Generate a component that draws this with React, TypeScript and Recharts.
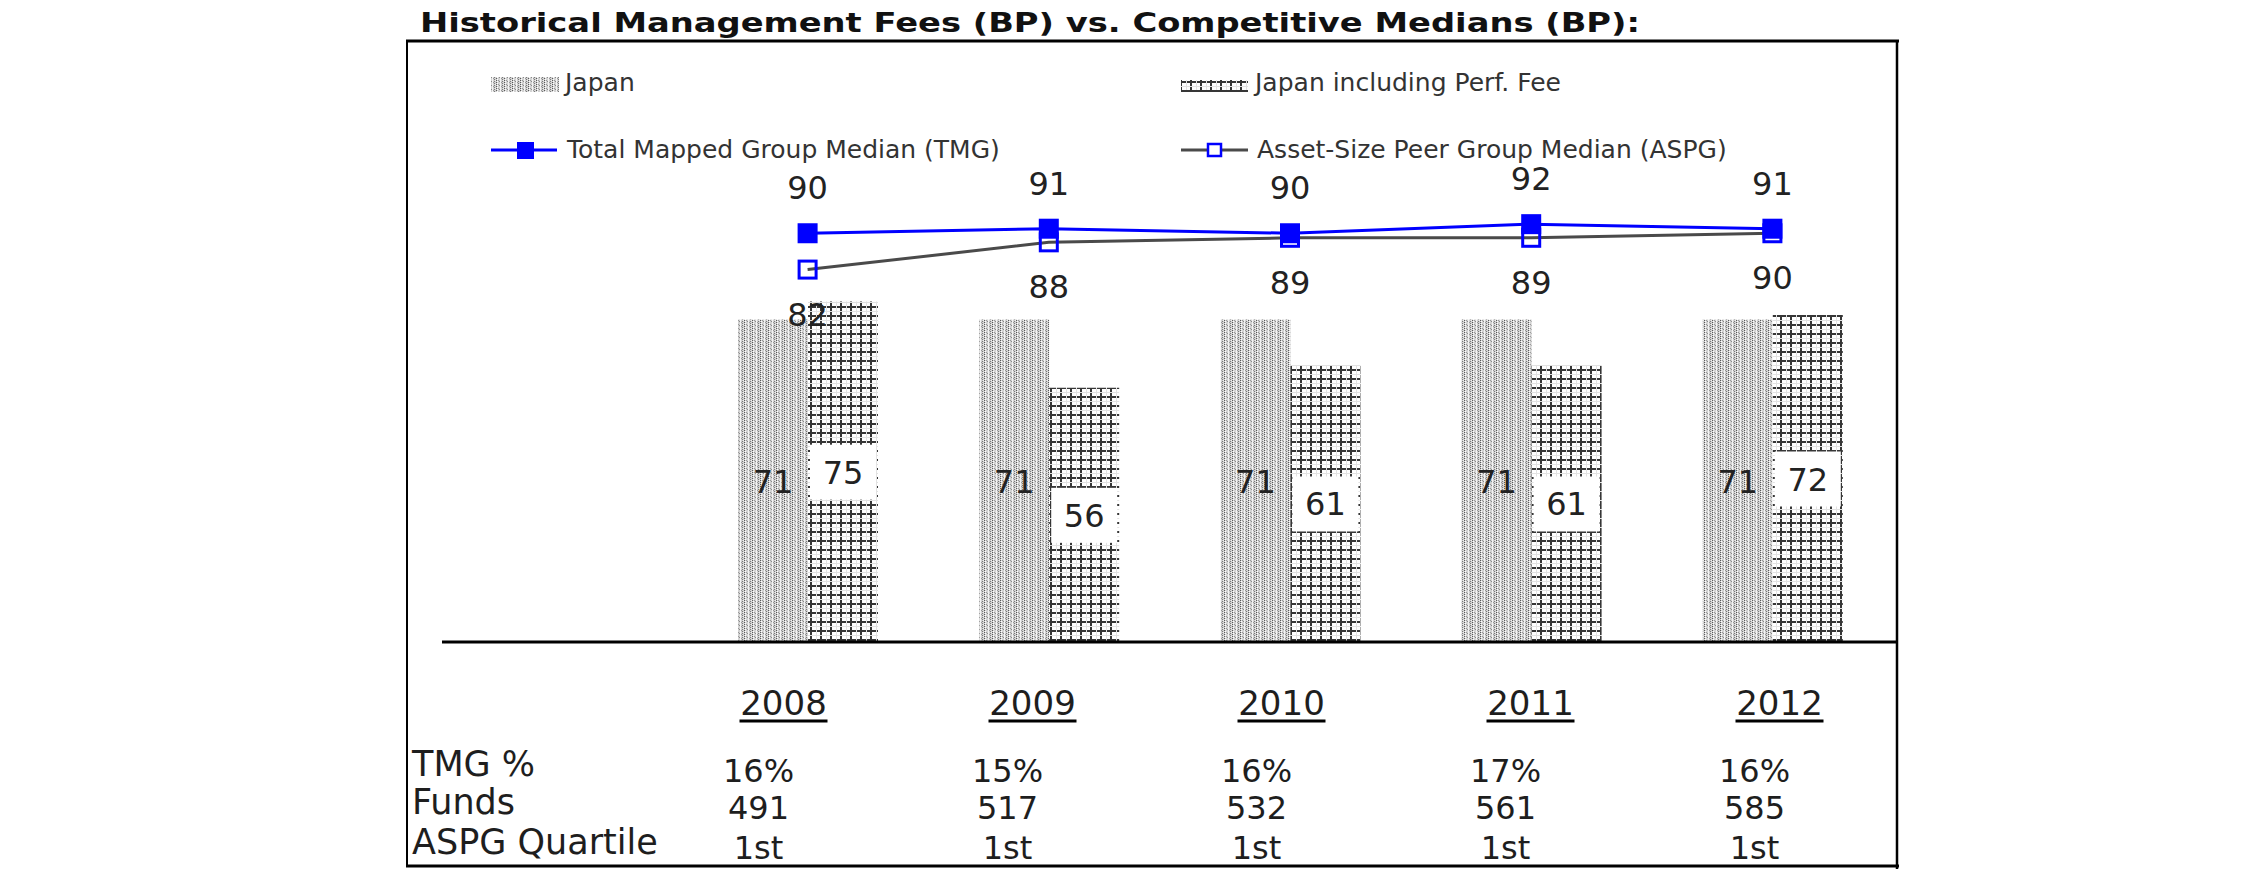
import { ComposedChart, Bar, Line, XAxis, YAxis, LabelList } from "recharts";

const years = ["2008", "2009", "2010", "2011", "2012"];
const japanFees = [71, 71, 71, 71, 71];
const japanPerfFees = [75, 56, 61, 61, 72];
const tmgMedian = [90, 91, 90, 92, 91];
const aspgMedian = [82, 88, 89, 89, 90];
const tmgPct = ["16%", "15%", "16%", "17%", "16%"];
const fundCounts = ["491", "517", "532", "561", "585"];
const aspgQuartile = ["1st", "1st", "1st", "1st", "1st"];
const rowLabels = ["TMG %", "Funds", "ASPG Quartile"];

const data = years.map((year, i) => ({
    year,
    japan: japanFees[i],
    perf: japanPerfFees[i],
    tmg: tmgMedian[i],
    aspg: aspgMedian[i],
}));

const FONT = "'DejaVu Sans', Verdana, sans-serif";
const BLUE = "#0000ff";

// pulls geometry out of label props (recharts 3 sometimes only fills viewBox)
function geom(props: any) {
    const vb = props.viewBox || {};
    return {
        x: props.x ?? vb.x,
        y: props.y ?? vb.y,
        width: props.width ?? vb.width ?? 0,
        height: props.height ?? vb.height ?? 0,
    };
}

function JapanLabel(props: any) {
    const { x, y, width, height } = geom(props);
    return (
        <text x={x + width / 2} y={y + height / 2 + 12} textAnchor="middle" fontSize={32} fontFamily={FONT} fill="#222">
            {props.value}
        </text>
    );
}

function PerfLabel(props: any) {
    const { x, y, width, height } = geom(props);
    const cx = x + width / 2;
    const cy = y + height / 2;
    return (
        <g>
            <rect x={cx - 33} y={cy - 27} width={66} height={55} fill="#fff" />
            <text x={cx} y={cy + 12} textAnchor="middle" fontSize={32} fontFamily={FONT} fill="#222">
                {props.value}
            </text>
        </g>
    );
}

function AboveLabel(props: any) {
    const { x, y } = geom(props);
    return (
        <text x={x} y={y - 34} textAnchor="middle" fontSize={32} fontFamily={FONT} fill="#222">
            {props.value}
        </text>
    );
}

function BelowLabel(props: any) {
    const { x, y } = geom(props);
    return (
        <text x={x} y={y + 56} textAnchor="middle" fontSize={32} fontFamily={FONT} fill="#222">
            {props.value}
        </text>
    );
}

function TableTick(props: any) {
    const { x, y, payload } = props;
    const i = years.indexOf(payload.value);
    const yx = x + 25;
    const cell = { textAnchor: "middle" as const, fontSize: 32, fontFamily: FONT, fill: "#1e1e1e" };
    return (
        <g>
            <text x={yx} y={y + 69} textAnchor="middle" fontSize={34} fontFamily={FONT} fill="#1e1e1e">
                {payload.value}
            </text>
            <line x1={yx - 44} x2={yx + 44} y1={y + 75} y2={y + 75} stroke="#000" strokeWidth={3} />
            <text x={x} y={y + 136} {...cell}>{tmgPct[i]}</text>
            <text x={x} y={y + 173} {...cell}>{fundCounts[i]}</text>
            <text x={x} y={y + 213} {...cell}>{aspgQuartile[i]}</text>
        </g>
    );
}

export default function App() {
    return (
        <div style={{ position: "absolute", left: 0, top: 0, width: 2250, height: 895, background: "#fff" }}>
            <svg width={2250} height={895} style={{ position: "absolute", left: 0, top: 0 }}>
                <defs>
                    {/* stipple with dotted columns for plain Japan fee */}
                    <pattern id="jpDots" patternUnits="userSpaceOnUse" width={8} height={4}>
                        <rect width={8} height={4} fill="#d2d2d2" />
                        <rect x={0} y={0} width={1} height={1} fill="#5a5a5a" />
                        <rect x={0} y={2} width={1} height={1} fill="#5a5a5a" />
                        <rect x={1} y={1} width={1} height={1} fill="#ffffff" />
                        <rect x={1} y={3} width={1} height={1} fill="#ffffff" />
                        <rect x={2} y={0} width={1} height={1} fill="#9a9a9a" />
                        <rect x={3} y={1} width={1} height={1} fill="#8a8a8a" />
                        <rect x={4} y={0} width={1} height={4} fill="#f4f4f4" />
                        <rect x={5} y={2} width={1} height={1} fill="#9a9a9a" />
                        <rect x={6} y={1} width={1} height={1} fill="#7a7a7a" />
                        <rect x={6} y={3} width={1} height={1} fill="#7a7a7a" />
                        <rect x={7} y={0} width={1} height={1} fill="#eeeeee" />
                    </pattern>
                    {/* dark grid for fee incl. performance fee */}
                    <pattern id="perfGrid" patternUnits="userSpaceOnUse" width={10} height={9}>
                        <rect x={0} y={0} width={2} height={9} fill="#363636" />
                        <rect x={0} y={0} width={10} height={2} fill="#363636" />
                        <rect x={6} y={0} width={1} height={9} fill="#e2e2e2" />
                        <rect x={0} y={5} width={10} height={1} fill="#e2e2e2" />
                    </pattern>
                </defs>
            </svg>

            <ComposedChart
                width={2250}
                height={895}
                data={data}
                barGap={0}
                margin={{ top: 97, right: 352, bottom: 31, left: 442 }}
                style={{ position: "absolute", left: 0, top: 0 }}
            >
                <XAxis
                    xAxisId="main"
                    dataKey="year"
                    padding={{ left: 245, right: 5 }}
                    height={2}
                    tick={false}
                    tickLine={false}
                    axisLine={{ stroke: "#000", strokeWidth: 3 }}
                />
                <XAxis
                    xAxisId="table"
                    dataKey="year"
                    padding={{ left: 192, right: 19 }}
                    height={220}
                    axisLine={false}
                    tickLine={false}
                    tickSize={0}
                    interval={0}
                    tick={(p: any) => <TableTick {...p} />}
                />
                <YAxis hide domain={[0, 120]} />
                <Line
                    xAxisId="main"
                    dataKey="tmg"
                    stroke={BLUE}
                    strokeWidth={3}
                    isAnimationActive={false}
                    dot={(p: any) => (
                        <rect key={`tmg-${p.index}`} x={p.cx - 10} y={p.cy - 10} width={20} height={20} fill={BLUE} />
                    )}
                >
                    <LabelList dataKey="tmg" content={AboveLabel} />
                </Line>
                <Line
                    xAxisId="main"
                    dataKey="aspg"
                    stroke="#4a4a4a"
                    strokeWidth={3}
                    isAnimationActive={false}
                    dot={(p: any) => (
                        <rect
                            key={`aspg-${p.index}`}
                            x={p.cx - 8.5}
                            y={p.cy - 8.5}
                            width={17}
                            height={17}
                            fill="none"
                            stroke={BLUE}
                            strokeWidth={3}
                        />
                    )}
                >
                    <LabelList dataKey="aspg" content={BelowLabel} />
                </Line>
                <Bar xAxisId="main" dataKey="japan" fill="url(#jpDots)" barSize={70} isAnimationActive={false}>
                    <LabelList dataKey="japan" content={JapanLabel} />
                </Bar>
                <Bar xAxisId="main" dataKey="perf" fill="url(#perfGrid)" barSize={70} isAnimationActive={false}>
                    <LabelList dataKey="perf" content={PerfLabel} />
                </Bar>
            </ComposedChart>

            {/* frame, title, legend and row labels */}
            <svg
                width={2250}
                height={895}
                style={{ position: "absolute", left: 0, top: 0, pointerEvents: "none" }}
                fontFamily={FONT}
            >
                <text x={420} y={32} fontSize={26} fontWeight="bold" fill="#111" textLength={1220} lengthAdjust="spacingAndGlyphs">
                    Historical Management Fees (BP) vs. Competitive Medians (BP):
                </text>
                <line x1={406} x2={1899} y1={41} y2={41} stroke="#000" strokeWidth={3} />
                <line x1={407} x2={407} y1={40} y2={867} stroke="#000" strokeWidth={2} />
                <line x1={1897} x2={1897} y1={40} y2={869} stroke="#000" strokeWidth={2.5} />
                <line x1={406} x2={1899} y1={866} y2={866} stroke="#000" strokeWidth={3} />

                <rect x={491} y={77} width={68} height={15} fill="url(#jpDots)" />
                <text x={565} y={91} fontSize={25} fill="#333">Japan</text>
                <rect x={1181} y={80} width={67} height={11} fill="url(#perfGrid)" />
                <line x1={1181} x2={1248} y1={91} y2={91} stroke="#363636" strokeWidth={2} />
                <text x={1255} y={91} fontSize={25} fill="#333">Japan including Perf. Fee</text>

                <line x1={491} x2={557} y1={150} y2={150} stroke={BLUE} strokeWidth={3} />
                <rect x={517} y={142} width={17} height={17} fill={BLUE} />
                <text x={567} y={158} fontSize={25} fill="#333">Total Mapped Group Median (TMG)</text>
                <line x1={1181} x2={1248} y1={150} y2={150} stroke="#4a4a4a" strokeWidth={3} />
                <rect x={1208} y={144} width={13} height={12} fill="#fff" stroke={BLUE} strokeWidth={2.5} />
                <text x={1257} y={158} fontSize={25} fill="#333">Asset-Size Peer Group Median (ASPG)</text>

                {rowLabels.map((label, i) => (
                    <text key={label} x={412} y={[776, 814, 854][i]} fontSize={35} fill="#1e1e1e">
                        {label}
                    </text>
                ))}
            </svg>
        </div>
    );
}
